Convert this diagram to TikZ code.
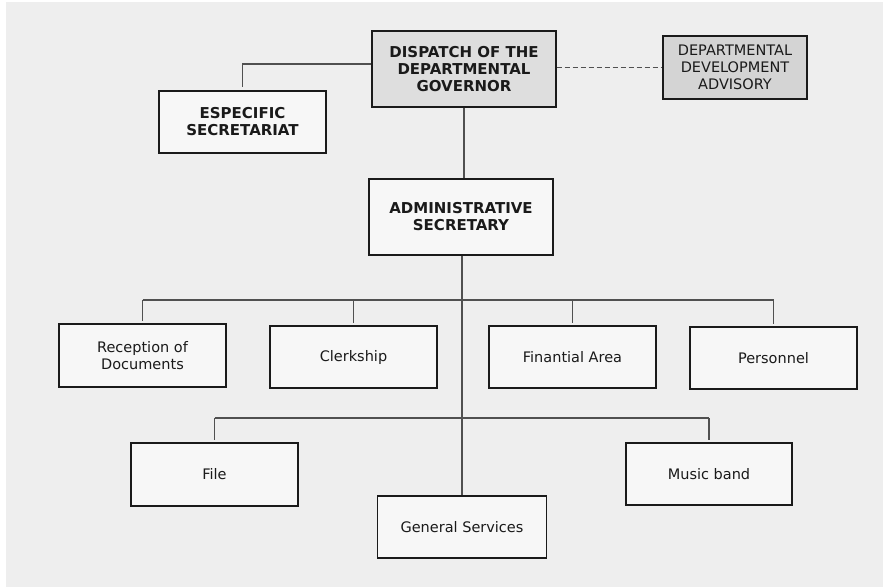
\documentclass[tikz,border=0pt]{standalone}
\usepackage{fontspec}
\setmainfont{DejaVu Sans}
\definecolor{bg}{HTML}{EEEEEE}
\definecolor{boxfill}{HTML}{F7F7F7}
\definecolor{topfill}{HTML}{DEDEDE}
\definecolor{advfill}{HTML}{D4D4D4}
\definecolor{linegray}{HTML}{505050}
\definecolor{ink}{HTML}{1A1A1A}
\begin{document}
\begin{tikzpicture}[x=1pt,y=-1pt,
  box/.style={draw=ink, line width=1.1pt, fill=boxfill, inner sep=0pt, align=center,
    text=ink, font=\fontsize{14.5}{17}\selectfont},
  boldbox/.style={box, font=\fontsize{15}{17}\selectfont\bfseries},
  conn/.style={draw=linegray, line width=1.2pt},
  dashconn/.style={conn, dash pattern=on 5pt off 3pt}]
\useasboundingbox (0,0) rectangle (885,587);
\fill[white] (0,0) rectangle (885,587);
\fill[bg] (6,2) rectangle (883,587);

\node[boldbox, fill=topfill, minimum width=184pt, minimum height=76pt] (disp) at (464,69) {DISPATCH OF THE\\DEPARTMENTAL\\GOVERNOR};
\node[boldbox, minimum width=167pt, minimum height=62pt] (esp) at (242.5,122) {ESPECIFIC\\SECRETARIAT};
\node[box, fill=advfill, minimum width=144pt, minimum height=63pt] (adv) at (735,67.5) {DEPARTMENTAL\\DEVELOPMENT\\ADVISORY};
\node[boldbox, minimum width=184pt, minimum height=76pt] (admin) at (461,217) {ADMINISTRATIVE\\SECRETARY};

\node[box, minimum width=167pt, minimum height=63pt] (rec) at (142.5,355.5) {Reception of\\Documents};
\node[box, minimum width=167pt, minimum height=62pt] (clk) at (353.5,357) {Clerkship};
\node[box, minimum width=167pt, minimum height=62pt] (fin) at (572.5,357) {Finantial Area};
\node[box, minimum width=167pt, minimum height=62pt] (per) at (773.5,358) {Personnel};

\node[box, minimum width=167pt, minimum height=63pt] (file) at (214.5,474.5) {File};
\node[box, minimum width=169pt, minimum height=62pt] (gs) at (462,527) {General Services};
\node[box, minimum width=166pt, minimum height=62pt] (mus) at (709,474) {Music band};

% top connectors
\draw[conn] ([yshift=5pt]disp.west) -| ([yshift=3pt]esp.north);
\draw[dashconn] (adv.west -| disp.east) -- (adv.west);
\draw[conn] (disp.south) -- (disp.south |- admin.north);
\draw[conn] (gs.north |- admin.south) -- (gs.north);

% first bus
\coordinate (bus1) at (462,300);
\draw[conn] (rec.north |- bus1) -- (per.north |- bus1);
\foreach \n in {rec,clk,fin,per}
  \draw[conn] (\n.north |- bus1) -- ([yshift=2pt]\n.north);

% second bus
\coordinate (bus2) at (462,418);
\draw[conn] (file.north |- bus2) -- (mus.north |- bus2);
\foreach \n in {file,mus}
  \draw[conn] (\n.north |- bus2) -- ([yshift=2pt]\n.north);
\end{tikzpicture}
\end{document}
